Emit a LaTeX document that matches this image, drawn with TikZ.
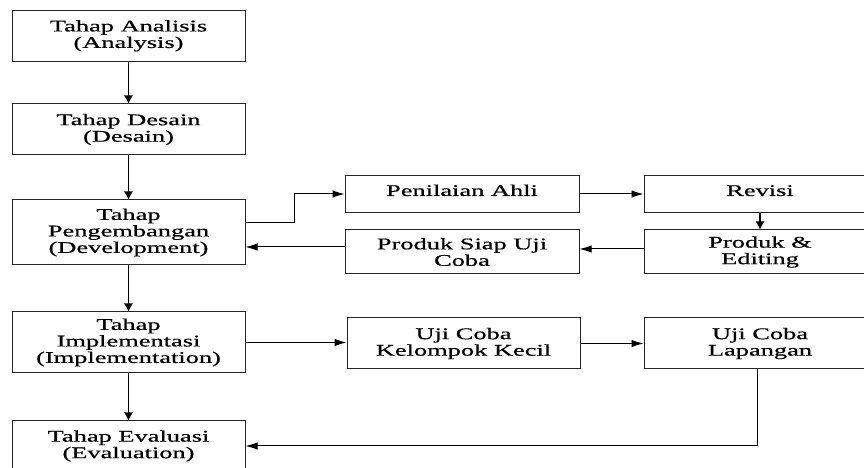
\documentclass[tikz,border=0pt]{standalone}
\usepackage{fontspec}
\setmainfont[FakeStretch=1.62,FakeBold=0.6]{Liberation Serif}
\usetikzlibrary{arrows.meta}

\tikzset{
  tahap/.style={draw=black!85, line width=1pt, align=center, inner sep=0pt,
    font=\fontsize{16.3}{16.5}\selectfont, minimum width=233pt},
  satu/.style={text height=11pt, text depth=7pt},
  varr/.style={line width=1.2pt, -{Latex[length=8pt,width=9pt]}},
  harr/.style={line width=1pt, -{Latex[length=12pt,width=7.5pt]}},
}

\begin{document}
\begin{tikzpicture}[x=1pt,y=1pt]
  \useasboundingbox (0,0) rectangle (864,468);

  % kolom kiri
  \node[tahap, minimum height=51pt] (analisis) at (128.5,432.2) {Tahap Analisis\\(Analysis)};
  \node[tahap, minimum height=51pt] (desain) at (128.5,338.5) {Tahap Desain\\(Desain)};
  \node[tahap, minimum height=65pt] (pengembangan) at (128.5,235.5) {Tahap\\Pengembangan\\(Development)};
  \node[tahap, minimum height=61pt] (implementasi) at (128.5,125.5) {Tahap\\Implementasi\\(Implementation)};
  \node[tahap, minimum height=50pt] (evaluasi) at (128.5,22) {Tahap Evaluasi\\(Evaluation)};

  % tengah dan kanan
  \node[tahap, satu, minimum width=234pt, minimum height=37pt] (penilaian) at (462,274) {Penilaian Ahli};
  \node[tahap, minimum width=234pt, minimum height=44pt] (siap) at (462,216) {Produk Siap Uji\\Coba};
  \node[tahap, satu, minimum width=232pt, minimum height=37pt] (revisi) at (760,274) {Revisi};
  \node[tahap, minimum width=232pt, minimum height=44pt] (editing) at (760,216) {Produk \&\\Editing};
  \node[tahap, minimum height=51pt] (kecil) at (463.5,124.5) {Uji Coba\\Kelompok Kecil};
  \node[tahap, minimum width=232pt, minimum height=51pt] (lapangan) at (760,124.5) {Uji Coba\\Lapangan};

  % alur
  \draw[varr] (analisis) -- (desain);
  \draw[varr] (desain) -- (pengembangan);
  \draw[varr] (pengembangan) -- (implementasi);
  \draw[varr] (implementasi) -- (evaluasi);
  \draw[harr] ([yshift=10pt]pengembangan.east) -- ++(49,0) |- (penilaian.west);
  \draw[harr] (penilaian) -- (revisi);
  \draw[varr] (revisi) -- (editing);
  \draw[harr] ([yshift=3pt]editing.west) -- ([yshift=3pt]siap.east);
  \draw[harr] ([yshift=5pt]siap.west) -- ([yshift=5pt]siap.west -| pengembangan.east);
  \draw[harr] (implementasi.east) -- (implementasi.east -| kecil.west);
  \draw[harr] (kecil.east) -- (kecil.east -| lapangan.west);
  \draw[harr] ([xshift=-3pt]lapangan.south) |- (evaluasi.east);
\end{tikzpicture}
\end{document}
